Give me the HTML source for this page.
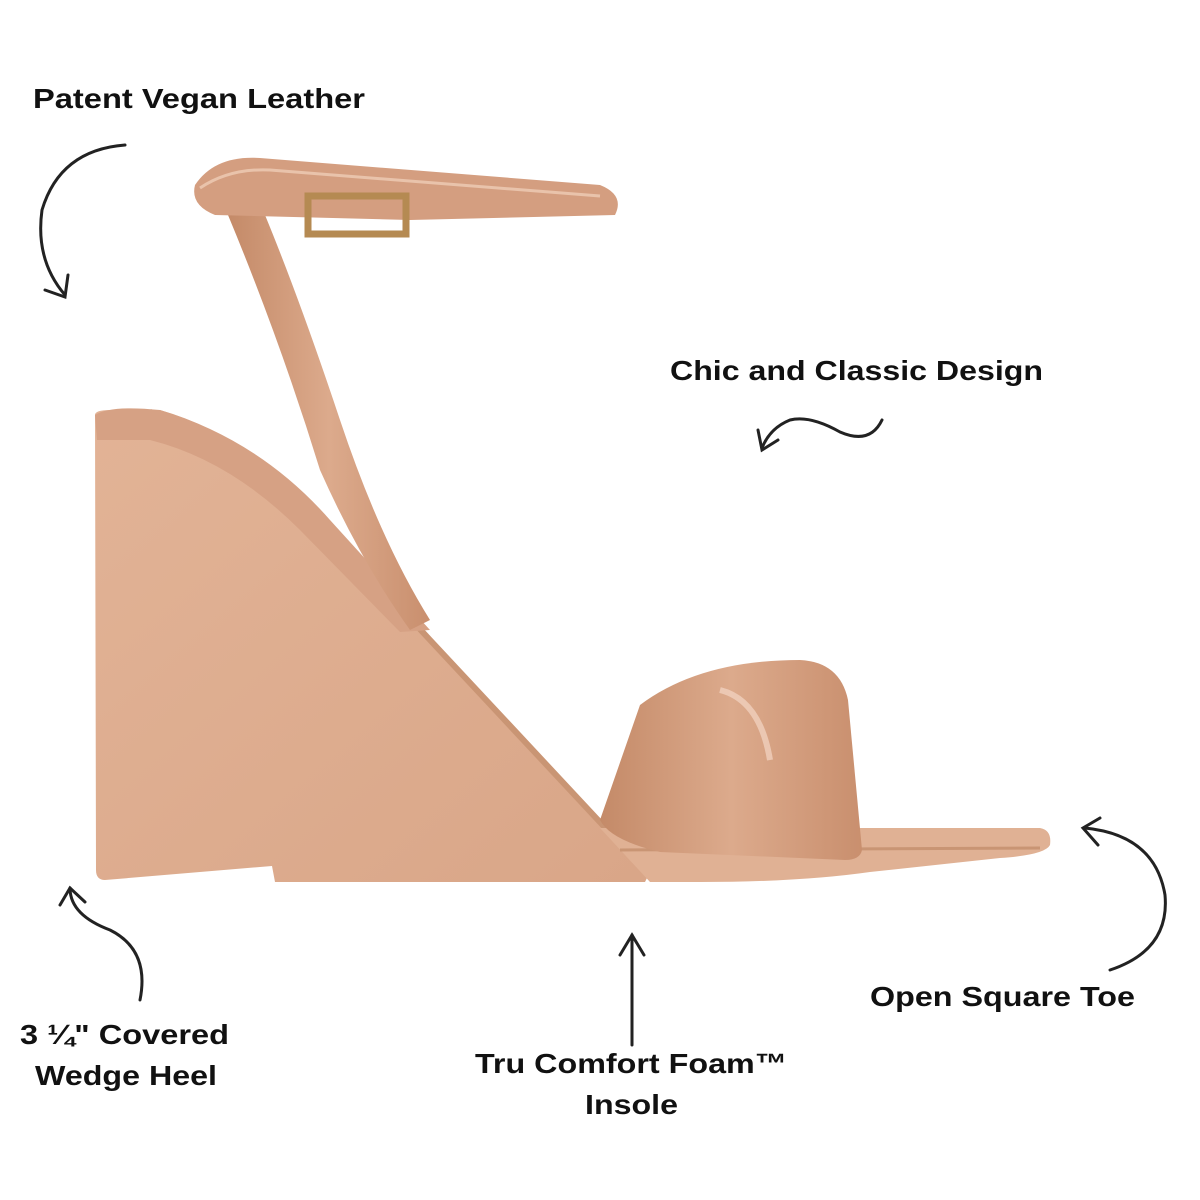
<!DOCTYPE html>
<html><head><meta charset="utf-8"><style>
html,body{margin:0;padding:0;background:#fff}
svg{display:block}
text{font-family:"Liberation Sans",sans-serif;font-weight:bold;font-size:28px;fill:#111}
</style></head><body>
<svg width="1200" height="1200" viewBox="0 0 1200 1200" xmlns="http://www.w3.org/2000/svg">
<defs>
<linearGradient id="w" x1="0" y1="0" x2="1" y2="1">
<stop offset="0" stop-color="#e2b396"/><stop offset="1" stop-color="#d9a688"/>
</linearGradient>
<linearGradient id="s" x1="0" y1="0" x2="1" y2="0">
<stop offset="0" stop-color="#c48a68"/><stop offset="0.5" stop-color="#dcaa8c"/><stop offset="1" stop-color="#c98f6e"/>
</linearGradient>
</defs>
<path d="M95,415 Q95,410 110,410 L160,410 Q230,430 280,480 L420,630 L620,840 L650,872 L645,882 L275,882 L272,866 L105,880 Q96,880 96,870 Z" fill="url(#w)"/>
<path d="M150,412 Q240,440 300,500 L430,640 L640,865" stroke="#c99574" stroke-width="6" fill="none"/>
<path d="M95,415 Q110,405 160,410 Q260,440 330,520 L430,630 L400,632 L300,530 Q230,460 150,440 L97,440 Z" fill="#d6a184"/>
<path d="M600,828 L1040,828 Q1052,830 1050,845 Q1045,855 1000,858 L870,872 Q800,882 700,882 L650,882 Z" fill="#e0b194"/>
<path d="M620,850 L1040,848" stroke="#c99574" stroke-width="3" fill="none"/>
<path d="M640,705 Q700,660 800,660 Q840,662 848,700 L862,850 Q860,860 845,860 L660,852 Q610,840 600,820 Z" fill="url(#s)"/>
<path d="M720,690 Q760,700 770,760" stroke="#f3d6c4" stroke-width="6" fill="none" opacity="0.7"/>
<path d="M228,215 L265,215 Q300,300 340,420 Q380,540 430,620 L410,630 Q360,560 320,470 Q280,340 228,215 Z" fill="url(#s)"/>
<path d="M195,185 Q215,155 260,158 L600,185 Q625,195 615,215 L410,220 L215,215 Q190,205 195,185 Z" fill="#d49e80"/>
<path d="M200,188 Q230,168 270,170 L600,196" stroke="#e9c3ab" stroke-width="3" fill="none"/>
<rect x="308" y="196" width="98" height="38" fill="none" stroke="#b58a52" stroke-width="7"/>
<g stroke="#222" stroke-width="3" fill="none" stroke-linecap="round">
<path d="M125,145 Q60,150 42,210 Q35,260 65,295"/>
<path d="M45,290 L65,297 L68,275"/>
<path d="M882,420 Q870,445 840,432 Q810,415 790,420 Q770,428 762,448"/>
<path d="M758,430 L762,450 L778,440"/>
<path d="M140,1000 Q150,950 110,930 Q70,915 70,888"/>
<path d="M60,905 L70,888 L85,902"/>
<path d="M632,1045 L632,935"/>
<path d="M620,955 L632,935 L644,955"/>
<path d="M1110,970 Q1170,950 1165,895 Q1155,835 1085,828"/>
<path d="M1100,818 L1083,828 L1098,845"/>
</g>
<text x="33" y="108" textLength="332" lengthAdjust="spacingAndGlyphs">Patent Vegan Leather</text>
<text x="670" y="380" textLength="373" lengthAdjust="spacingAndGlyphs">Chic and Classic Design</text>
<text x="20" y="1044" textLength="209" lengthAdjust="spacingAndGlyphs">3 ¼" Covered</text>
<text x="35" y="1085" textLength="182" lengthAdjust="spacingAndGlyphs">Wedge Heel</text>
<text x="475" y="1073" textLength="312" lengthAdjust="spacingAndGlyphs">Tru Comfort Foam™</text>
<text x="585" y="1114" textLength="93" lengthAdjust="spacingAndGlyphs">Insole</text>
<text x="870" y="1006" textLength="265" lengthAdjust="spacingAndGlyphs">Open Square Toe</text>
</svg>
</body></html>
